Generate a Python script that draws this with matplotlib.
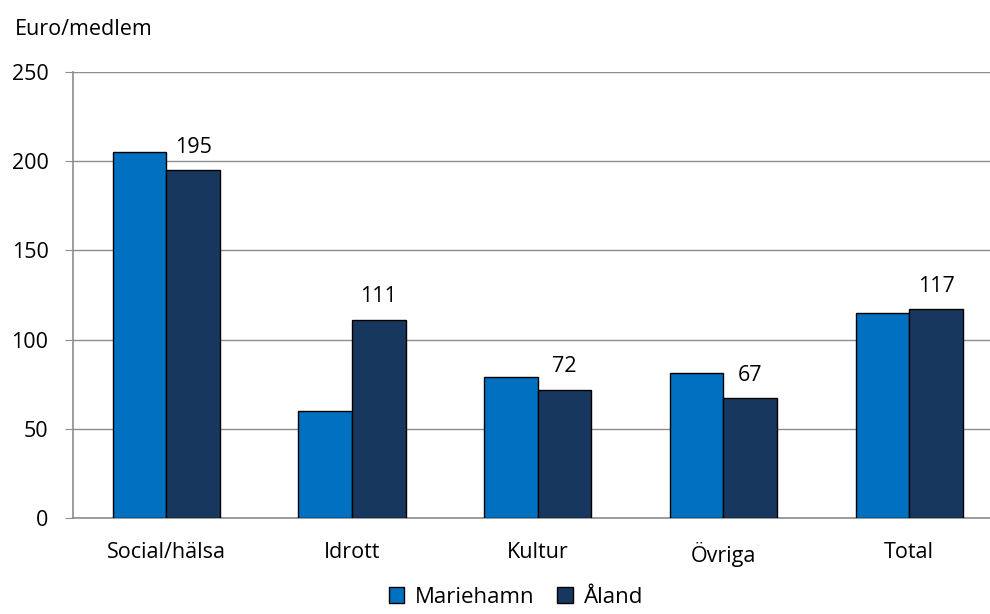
import matplotlib
matplotlib.use('Agg')
import matplotlib.pyplot as plt
import numpy as np

categories = ['Social/hälsa', 'Idrott', 'Kultur', 'Övriga', 'Total']
mariehamn = [205, 60, 79, 81, 115]
aland = [195, 111, 72, 67, 117]
yticks = [0, 50, 100, 150, 200, 250]

plt.rcParams['font.family'] = ['Open Sans', 'DejaVu Sans']
plt.rcParams['font.size'] = 15.5

fig = plt.figure(figsize=(9.9, 6.14), dpi=100)
ax = fig.add_axes([0.0742, 0.1564, 0.938, 0.7263])

x = np.arange(len(categories))
w = 0.289
b1 = ax.bar(x - w / 2, mariehamn, w, color='#0070C0', edgecolor='black', linewidth=1, label='Mariehamn', zorder=3)
b2 = ax.bar(x + w / 2, aland, w, color='#17375E', edgecolor='black', linewidth=1, label='Åland', zorder=3)

# value labels only on Åland
for xi, v in zip(x, aland):
    ax.annotate(str(v), (xi + w / 2, v), xytext=(0, 9), textcoords='offset points',
                ha='center', va='bottom')

ax.set_xlim(-0.5, 4.5)
ax.set_ylim(0, 250)
ax.set_yticks(yticks)
ax.set_xticks(x)
ax.set_xticklabels(categories)
ax.yaxis.grid(True, color='#8c8c8c', linewidth=1)
ax.set_axisbelow(True)
ax.tick_params(axis='y', length=6, color='#8c8c8c', pad=12)
ax.tick_params(axis='x', length=0, pad=17)
for s in ['top', 'right']:
    ax.spines[s].set_visible(False)
for s in ['left', 'bottom']:
    ax.spines[s].set_color('#8c8c8c')
    ax.spines[s].set_linewidth(1.2)

fig.text(0.015, 0.952, 'Euro/medlem', ha='left', va='center')

fig.legend(handles=[b1, b2], loc='center', bbox_to_anchor=(0.521, 0.027), ncol=2,
           frameon=False, handlelength=0.7, handleheight=0.7, handletextpad=0.5,
           columnspacing=1.0, fontsize=16)

fig.savefig('out.png', dpi=100)
